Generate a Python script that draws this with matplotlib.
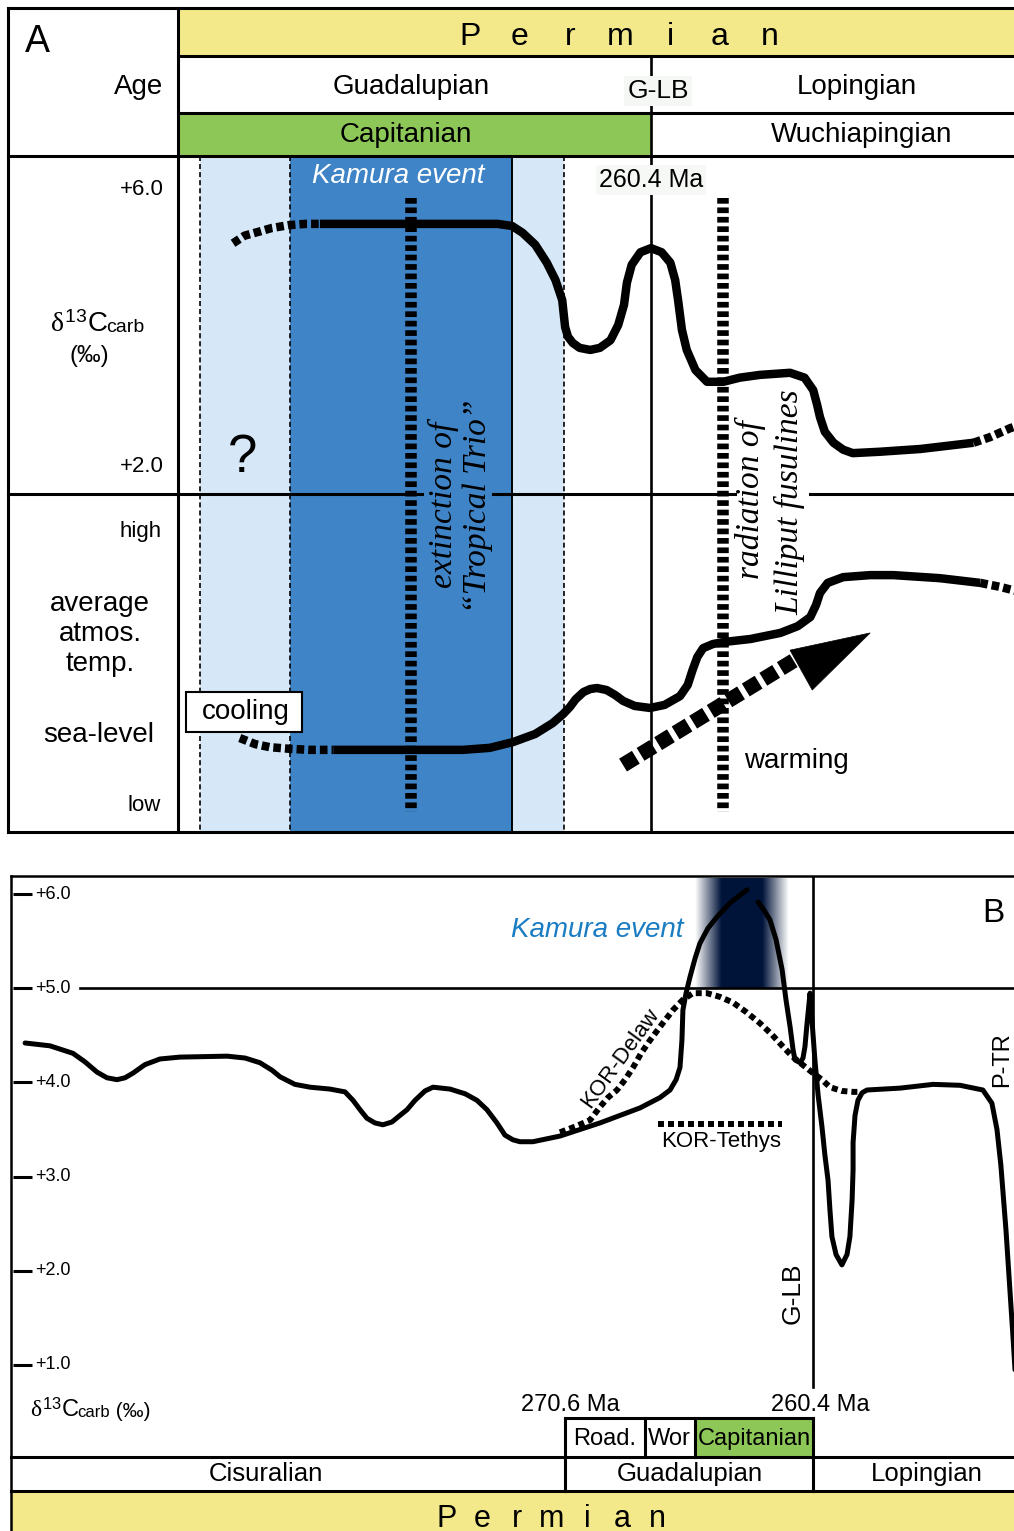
import numpy as np
import matplotlib
matplotlib.use('Agg')
import matplotlib.pyplot as plt
from matplotlib.patches import Rectangle, Polygon
from matplotlib.transforms import blended_transform_factory as blend

plt.rcParams['font.family'] = ['Liberation Sans', 'DejaVu Sans']
plt.rcParams['lines.scale_dashes'] = False
plt.rcParams['mathtext.fontset'] = 'custom'
plt.rcParams['mathtext.rm'] = 'Liberation Sans'
plt.rcParams['mathtext.it'] = 'Liberation Serif'
plt.rcParams['mathtext.default'] = 'it'

# ============================ DATA ============================
# ---- Panel A: close-up of Capitanian - Wuchiapingian, x = age (Ma) ----
A_age_lim = (265.30, 256.64)
A_d13c_lim = (1.61, 6.49)          # delta13C carb (permil), upper half
A_level_lim = (0.0, 10.0)          # relative temperature / sea level, lower half

A_glb_age = 260.4
A_kamura_core = (264.14, 261.84)
A_kamura_halo = (265.07, 261.30)
A_trio_extinction_age = 262.89
A_lilliput_radiation_age = 259.65

A_header_bounds = [265.30, 260.40, 256.64]
A_series = ['Guadalupian', 'Lopingian']
A_series_label_age = [262.88, 258.27]
A_stages = ['Capitanian', 'Wuchiapingian']
A_stage_label_age = [262.94, 258.22]

A_d13c_ticks = [6.0, 2.0]
A_d13c_ticklabels = ['+6.0', '+2.0']
A_level_ticks = [8.9, 0.77]
A_level_ticklabels = ['high', 'low']

A_d13c_dot_left_age = [264.73, 264.61, 264.48, 264.33, 264.16, 263.98, 263.83]
A_d13c_dot_left_val = [5.23, 5.34, 5.39, 5.45, 5.49, 5.51, 5.51]
A_d13c_age = [263.83, 263.00, 261.99, 261.84, 261.73, 261.60, 261.48, 261.39, 261.32, 261.29,
              261.26, 261.21, 261.14, 261.03, 260.93, 260.82, 260.74, 260.68, 260.65, 260.60,
              260.51, 260.40, 260.29, 260.20, 260.15, 260.12, 260.08, 260.03, 259.94, 259.82,
              259.65, 259.48, 259.27, 258.96, 258.81, 258.72, 258.68, 258.65, 258.60, 258.51,
              258.41, 258.31, 258.03, 257.61, 257.06]
A_d13c_val = [5.51, 5.51, 5.51, 5.48, 5.38, 5.21, 4.95, 4.70, 4.41, 4.02,
              3.88, 3.79, 3.72, 3.69, 3.72, 3.83, 4.05, 4.34, 4.66, 4.92,
              5.10, 5.16, 5.10, 4.95, 4.70, 4.41, 3.98, 3.69, 3.40, 3.23,
              3.23, 3.29, 3.33, 3.36, 3.29, 3.11, 2.90, 2.72, 2.51, 2.35,
              2.25, 2.20, 2.22, 2.26, 2.35]
A_d13c_dot_right_age = [257.06, 256.89, 256.68, 256.55]
A_d13c_dot_right_val = [2.35, 2.43, 2.56, 2.62]

A_sl_dot_left_age = [264.66, 264.50, 264.35, 264.14, 263.93, 263.69]
A_sl_dot_left_val = [2.78, 2.60, 2.51, 2.46, 2.43, 2.43]
A_sl_age = [263.69, 263.00, 262.35, 262.07, 261.83, 261.60, 261.42, 261.31, 261.24, 261.18,
            261.10, 261.03, 260.96, 260.86, 260.77, 260.69, 260.57, 260.41, 260.26, 260.10,
            260.02, 259.97, 259.92, 259.86, 259.76, 259.65, 259.37, 259.06, 258.88, 258.75,
            258.69, 258.65, 258.57, 258.41, 258.13, 257.89, 257.41, 256.99]
A_sl_val = [2.43, 2.43, 2.43, 2.49, 2.66, 2.90, 3.22, 3.49, 3.70, 3.93,
            4.14, 4.23, 4.26, 4.20, 4.05, 3.88, 3.73, 3.67, 3.76, 4.02,
            4.35, 4.79, 5.18, 5.44, 5.56, 5.62, 5.71, 5.89, 6.09, 6.36,
            6.72, 7.07, 7.37, 7.54, 7.60, 7.60, 7.51, 7.37]
A_sl_dot_right_age = [256.99, 256.78, 256.55]
A_sl_dot_right_val = [7.37, 7.25, 7.08]

A_warming_tail = [(260.69, 1.98), (258.91, 5.09)]
A_warming_head = [(258.13, 5.89), (258.96, 5.38), (258.73, 4.20)]

# ---- Panel B: Permian overview, x = age (Ma) ----
B_age_lim = (293.39, 252.13)
B_d13c_lim = (0.017, 6.196)
B_ticks = [6.0, 5.0, 4.0, 3.0, 2.0, 1.0]
B_ticklabels = ['+6.0', '+5.0', '+4.0', '+3.0', '+2.0', '+1.0']
B_glb_age = 260.4
B_stage_bounds = [270.6, 267.31, 265.25, 260.40]
B_stages = ['Road.', 'Wor', 'Capitanian']
B_stage_label_age = [268.95, 266.32, 262.83]
B_series_bounds = [270.6, 260.4]
B_series = ['Cisuralian', 'Guadalupian', 'Lopingian']
B_series_label_age = [282.9, 265.46, 255.71]
B_kamura_age = (265.27, 261.43)
B_kamura_d13c = (5.005, 6.17)

B_main1_age = [292.81, 291.79, 290.84, 290.35, 289.85, 289.44, 289.03, 288.70, 288.37, 287.88,
               287.26, 286.44, 284.50, 283.76, 283.15, 282.65, 282.32, 281.71, 281.09, 280.27,
               279.65, 279.32, 279.03, 278.75, 278.42, 278.09, 277.72, 277.39, 277.10, 276.77,
               276.36, 276.03, 275.33, 274.71, 274.22, 273.81, 273.40, 273.07, 272.74, 272.45,
               271.92, 270.81, 269.16, 267.51, 266.69, 266.28, 266.03, 265.87, 265.79, 265.75,
               265.62, 265.46, 265.25, 265.05, 264.72, 264.35, 263.81, 263.11]
B_main1_val = [4.42, 4.39, 4.31, 4.22, 4.11, 4.05, 4.03, 4.05, 4.10, 4.19,
               4.25, 4.27, 4.28, 4.26, 4.21, 4.13, 4.06, 3.98, 3.95, 3.93,
               3.90, 3.81, 3.71, 3.62, 3.57, 3.55, 3.58, 3.65, 3.71, 3.81,
               3.91, 3.95, 3.93, 3.88, 3.81, 3.71, 3.57, 3.44, 3.39, 3.37,
               3.37, 3.43, 3.57, 3.73, 3.84, 3.92, 4.03, 4.16, 4.45, 4.77,
               4.95, 5.12, 5.32, 5.48, 5.64, 5.76, 5.91, 6.05]
B_main2_age = [262.66, 262.41, 262.17, 261.92, 261.67, 261.51, 261.34, 261.22, 261.14, 260.93,
               260.81, 260.73, 260.65, 260.52, 260.44, 260.32, 260.19, 260.03, 259.91, 259.78,
               259.70, 259.62, 259.45, 259.21, 259.00, 258.88, 258.79, 258.75, 258.75, 258.67,
               258.55, 258.38, 258.18, 256.82, 255.46, 254.35, 253.41, 253.04, 252.83, 252.67,
               252.46, 252.17, 252.05]
B_main2_val = [5.92, 5.83, 5.73, 5.52, 5.20, 4.88, 4.59, 4.35, 4.24, 4.21,
               4.26, 4.38, 4.61, 4.95, 4.66, 4.24, 3.87, 3.53, 3.23, 2.96,
               2.64, 2.36, 2.17, 2.06, 2.17, 2.36, 2.75, 3.07, 3.36, 3.65,
               3.81, 3.89, 3.92, 3.94, 3.98, 3.97, 3.92, 3.78, 3.50, 3.12,
               2.43, 1.29, 0.78]
B_kor_age = [270.81, 270.19, 269.57, 269.16, 268.83, 268.46, 268.13, 267.80, 267.47, 267.10,
             266.61, 266.16, 265.75, 265.34, 264.76, 264.22, 263.69, 263.15, 262.58, 262.09,
             261.63, 261.26, 260.93, 260.40, 260.03, 259.70, 259.21, 258.75, 258.47]
B_kor_val = [3.47, 3.53, 3.60, 3.74, 3.84, 3.92, 4.03, 4.16, 4.31, 4.45,
             4.62, 4.77, 4.88, 4.95, 4.95, 4.91, 4.85, 4.75, 4.63, 4.51,
             4.38, 4.28, 4.21, 4.10, 4.03, 3.95, 3.91, 3.90, 3.90]

# ============================ STYLE ============================
YELLOW = '#F3E98A'
GREEN = '#8DC757'
LIGHTBLUE = '#D6E8F7'
BLUE = '#3F84C6'
NAVY = '#00143A'
KBLUE = '#1A7DC4'

W, H = 1014, 1531
fig = plt.figure(figsize=(W / 100, H / 100), dpi=100)
fig.patch.set_facecolor('white')


def px_axes(x0, y0, x1, y1, z):
    ax = fig.add_axes([x0 / W, 1 - y1 / H, (x1 - x0) / W, (y1 - y0) / H])
    ax.set_zorder(z)
    ax.axis('off')
    return ax


bg = px_axes(0, 0, W, H, 0)
fg = px_axes(0, 0, W, H, 3)
for a in (bg, fg):
    a.set_xlim(0, W)
    a.set_ylim(H, 0)

axAt = px_axes(178, 156, 1014, 494, 1)
axAb = px_axes(178, 494, 1014, 832, 1)
axB = px_axes(11, 876, 1014, 1457, 1)
axAt.set_xlim(*A_age_lim); axAt.set_ylim(*A_d13c_lim)
axAb.set_xlim(*A_age_lim); axAb.set_ylim(*A_level_lim)
axB.set_xlim(*B_age_lim); axB.set_ylim(*B_d13c_lim)

tA_bg = blend(axAt.transData, bg.transData)
tA_fg = blend(axAt.transData, fg.transData)
tB_bg = blend(axB.transData, bg.transData)
tB_fg = blend(axB.transData, fg.transData)


def line(ax, xs, ys, lw=2.2, tr=None, **kw):
    ax.plot(xs, ys, color='k', lw=lw, solid_capstyle='projecting',
            transform=(tr if tr is not None else ax.transData), **kw)


def agebox(ax, tr, a0, a1, y0, y1, **kw):
    ax.add_patch(Rectangle((a0, y0), a1 - a0, y1 - y0, transform=tr, **kw))


def spaced(ax, x0, step, y, word, size):
    for i, ch in enumerate(word):
        ax.text(x0 + i * step, y, ch, ha='center', va='baseline', size=size)


def d13c_label(ax, x, y, size, small, tail=None, tail_size=None):
    t = ax.text(x, y, r'$\delta^{\mathrm{13}}\mathrm{C}$', size=size, ha='left', va='baseline')
    t2 = ax.annotate('carb', xy=(1, y), xycoords=(t, 'data'), xytext=(-1.5, 0),
                     textcoords='offset points', size=small, ha='left', va='baseline')
    if tail:
        ax.annotate(tail, xy=(1, y), xycoords=(t2, 'data'), xytext=(0, 0),
                    textcoords='offset points', size=tail_size, ha='left', va='baseline')


# ============================ PANEL A ============================
bg.add_patch(Rectangle((178, 8), W - 178, 48, fc=YELLOW, lw=0))
agebox(bg, tA_bg, A_header_bounds[0], A_header_bounds[1], 113, 156, fc=GREEN, lw=0)
agebox(bg, tA_bg, A_kamura_halo[0], A_kamura_halo[1], 156, 832, fc=LIGHTBLUE, lw=0)
agebox(bg, tA_bg, A_kamura_core[0], A_kamura_core[1], 156, 832, fc=BLUE, lw=0)
for a in (A_kamura_halo[0], A_kamura_core[0], A_kamura_halo[1]):
    bg.plot([a, a], [156, 832], transform=tA_bg, color='k', lw=1.2, dashes=(3.6, 2.2))
bg.plot([A_kamura_core[1]] * 2, [156, 832], transform=tA_bg, color='k', lw=1.4)
bg.plot([A_glb_age] * 2, [56, 832], transform=tA_bg, color='k', lw=1.9)
for a in (A_trio_extinction_age, A_lilliput_radiation_age):
    bg.plot([a, a], [198, 812], transform=tA_bg, color='k', lw=8.3,
            dashes=(4.1, 2.7), dash_capstyle='butt')

LW_A = 6.1
solid = dict(color='k', lw=LW_A, solid_capstyle='butt', solid_joinstyle='round')
dotted = dict(color='k', lw=LW_A, dashes=(5.5, 2.9), dash_capstyle='butt')
axAt.plot(A_d13c_dot_left_age, A_d13c_dot_left_val, **dotted)
axAt.plot(A_d13c_age, A_d13c_val, **solid)
axAt.plot(A_d13c_dot_right_age, A_d13c_dot_right_val, **dotted)
axAb.plot(A_sl_dot_left_age, A_sl_dot_left_val, **dotted)
axAb.plot(A_sl_age, A_sl_val, **solid)
axAb.plot(A_sl_dot_right_age, A_sl_dot_right_val, **dotted)
axAb.plot([p[0] for p in A_warming_tail], [p[1] for p in A_warming_tail], color='k',
          lw=10.8, dashes=(10.8, 4.0), dash_capstyle='butt')
axAb.add_patch(Polygon(A_warming_head, closed=True, fc='k', ec='k', lw=0.5))

# frame
line(fg, [8, W], [8, 8])
line(fg, [8, 8], [8, 832])
line(fg, [178, 178], [8, 832])
line(fg, [178, W], [56, 56])
line(fg, [178, W], [113, 113])
line(fg, [8, W], [156, 156])
line(fg, [8, 422], [494, 494])
line(fg, [493, 735], [494, 494])
line(fg, [810, W], [494, 494])
line(fg, [8, W], [832, 832])

# header texts
fg.text(25, 42, 'A', size=27, ha='left', va='center')
fg.text(163, 87, 'Age', size=20, ha='right', va='center')
spaced(fg, 470, 50, 45, 'Permian', 23)
for name, a in zip(A_series, A_series_label_age):
    fg.text(a, 87, name, transform=tA_fg, size=20, ha='center', va='center')
for name, a in zip(A_stages, A_stage_label_age):
    fg.text(a, 135, name, transform=tA_fg, size=20, ha='center', va='center')
fg.text(658, 91, 'G-LB', size=19, ha='center', va='center',
        bbox=dict(boxstyle='square,pad=0.12', fc='#F5F7F5', ec='none'))

# left column labels
yt = axAt.get_yaxis_transform()
for v, lab in zip(A_d13c_ticks, A_d13c_ticklabels):
    axAt.text(-0.017, v, lab, transform=yt, size=16, ha='right', va='center')
yb = axAb.get_yaxis_transform()
for v, lab in zip(A_level_ticks, A_level_ticklabels):
    axAb.text(-0.02, v, lab, transform=yb, size=16, ha='right', va='center')
d13c_label(fg, 50, 332, 20, 14)
fg.text(89, 356, '(‰)', size=17, ha='center', va='center')
fg.text(100, 634, 'average\natmos.\ntemp.', size=20, ha='center', va='center',
        linespacing=1.22, multialignment='center')
fg.text(99, 735, 'sea-level', size=20, ha='center', va='center')

# panel annotations
fg.text(398, 176, 'Kamura event', color='white', style='italic', size=20, ha='center', va='center')
fg.text(651, 180, '260.4 Ma', size=18, ha='center', va='center',
        bbox=dict(boxstyle='square,pad=0.12', fc='#F6F8F6', ec='none'))
fg.text(243, 458, '?', size=38, ha='center', va='center')
SERIF = dict(family=['Liberation Serif', 'DejaVu Serif'], style='italic', size=24,
             rotation=90, ha='center', va='center')
fg.text(443, 505, 'extinction of', **SERIF)
fg.text(478, 506, '\u201cTropical Trio\u201d', **SERIF)
fg.text(750, 500, 'radiation of', **SERIF)
fg.text(790, 502, 'Lilliput fusulines', **SERIF)
fg.add_patch(Rectangle((186, 692), 116, 40, fc='white', ec='k', lw=1.5))
fg.text(246, 712, 'cooling', size=20, ha='center', va='center')
fg.text(796, 761, 'warming', size=20, ha='center', va='center')

# ============================ PANEL B ============================
bg.add_patch(Rectangle((11, 1491), W - 11, 40, fc=YELLOW, lw=0))
agebox(bg, tB_bg, B_stage_bounds[2], B_stage_bounds[3], 1418, 1457, fc=GREEN, lw=0)

# Kamura highlight (navy, fading sideways)
n = 300
xs = np.linspace(0, 1, n)
alpha = np.clip(np.minimum(xs, 1 - xs) / 0.28, 0, 1)
img = np.zeros((1, n, 4))
img[..., :3] = matplotlib.colors.to_rgb(NAVY)
img[..., 3] = alpha
axB.imshow(img, extent=[B_kamura_age[0], B_kamura_age[1], B_kamura_d13c[0], B_kamura_d13c[1]],
           aspect='auto', interpolation='bilinear', zorder=0.5)
axB.set_xlim(*B_age_lim); axB.set_ylim(*B_d13c_lim)

axB.axhline(5.0, xmin=(80 - 11) / 1003, xmax=1, color='k', lw=1.9, zorder=1)
axB.plot([B_glb_age] * 2, [0.76, B_d13c_lim[1]], color='k', lw=1.9, zorder=1)
ty = axB.get_yaxis_transform()
for v, lab in zip(B_ticks, B_ticklabels):
    axB.plot([0.002, 0.021], [v, v], transform=ty, color='k', lw=2.2,
             solid_capstyle='butt', clip_on=False)
    axB.text(0.024, v, lab, transform=ty, size=13, ha='left', va='center')

axB.plot(B_kor_age, B_kor_val, color='k', lw=4.3, dashes=(4.3, 2.9),
         dash_capstyle='butt', zorder=2)
axB.plot(B_main1_age, B_main1_val, color='k', lw=3.6, solid_joinstyle='round',
         solid_capstyle='round', zorder=3)
axB.plot(B_main2_age, B_main2_val, color='k', lw=3.6, solid_joinstyle='round',
         solid_capstyle='round', zorder=3)

# frame
line(fg, [11, W], [876, 876], lw=1.8)
line(fg, [11, 11], [876, H + 5], lw=1.8)
line(fg, [11, W], [1457, 1457])
line(fg, [11, W], [1491, 1491])
line(fg, [B_stage_bounds[0], B_stage_bounds[-1]], [1418, 1418], tr=tB_fg)
for a in B_stage_bounds:
    line(fg, [a, a], [1418, 1457], tr=tB_fg)
for a in B_series_bounds:
    line(fg, [a, a], [1457, 1491], tr=tB_fg)

for name, a in zip(B_stages, B_stage_label_age):
    fg.text(a, 1439, name, transform=tB_fg, size=17, ha='center', va='center')
for name, a in zip(B_series, B_series_label_age):
    fg.text(a, 1474, name, transform=tB_fg, size=18.5, ha='center', va='center')
spaced(fg, 447, 35, 1527, 'Permian', 22)

fg.text(570, 1405, '270.6 Ma', size=17, ha='center', va='center')
fg.text(820, 1405, '260.4 Ma', size=17, ha='center', va='center')
d13c_label(fg, 30, 1417, 17, 12, tail=' (‰)', tail_size=15)
fg.text(597, 930, 'Kamura event', color=KBLUE, style='italic', size=20, ha='center', va='center')
fg.text(993, 914, 'B', size=24, ha='center', va='center')
fg.text(620, 1058, 'KOR-Delaw', rotation=54, rotation_mode='anchor', size=16,
        ha='center', va='center')
fg.plot([658, 782], [1124, 1124], color='k', lw=4.3, dashes=(4.3, 2.9), dash_capstyle='butt')
fg.text(721, 1142, 'KOR-Tethys', size=16, ha='center', va='center')
fg.text(793, 1293, 'G-LB', rotation=90, size=19, ha='center', va='center')
fg.text(1002, 1060, 'P-TR', rotation=90, size=17, ha='center', va='center')

fig.savefig('out.png', dpi=100)
